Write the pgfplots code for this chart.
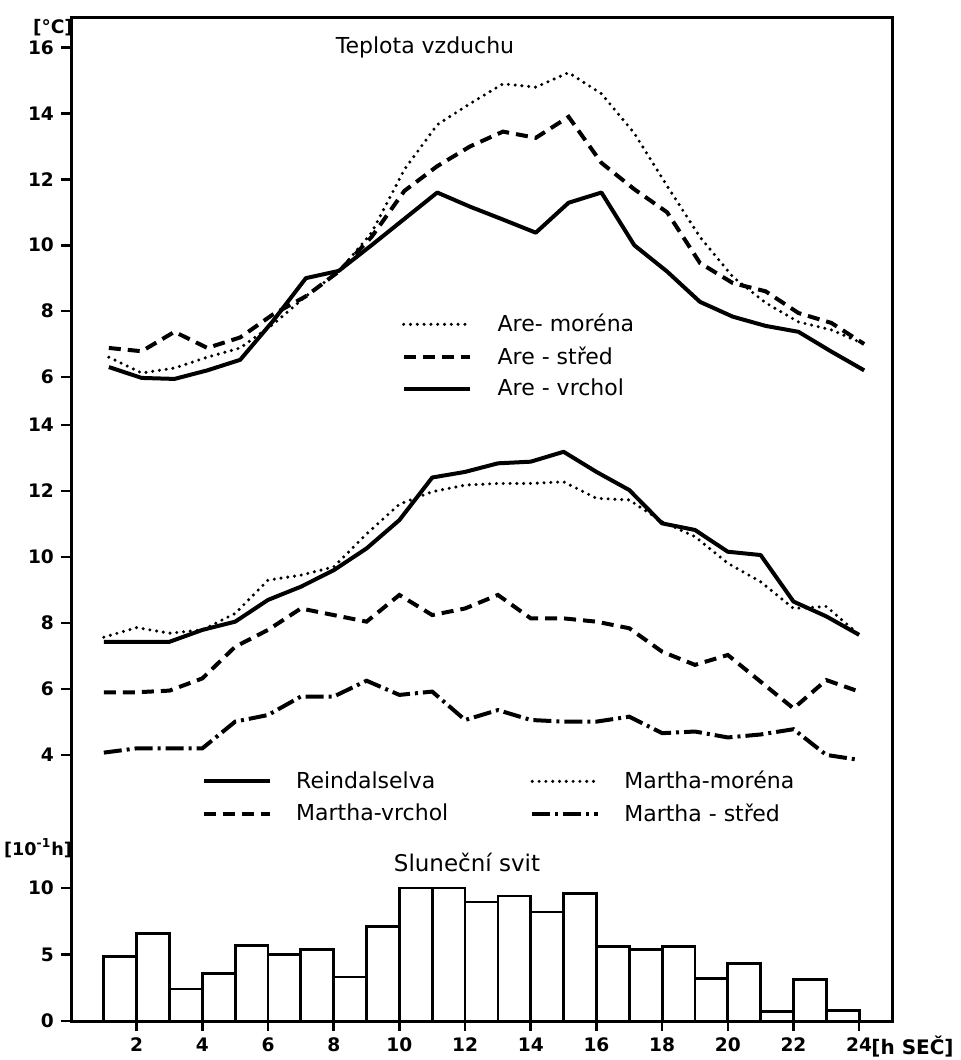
\documentclass[border=0pt]{standalone}
\usepackage{fontspec}
\setmainfont{DejaVu Sans}
\usepackage{pgfplots}
\pgfplotsset{compat=1.18}
\pgfplotsset{
  panel/.style={
    scale only axis, width=410.5pt, xmin=0, xmax=25,
    axis line style={draw=none},
    tick style={line width=1.3pt, black},
    tick align=outside, major tick length=5pt,
    ytick pos=left,
    /pgf/number format/assume math mode=true,
    tick label style={font=\fontsize{9.3}{11}\selectfont\bfseries},
    clip=false,
  },
  sol/.style={black, line width=2pt, line join=round},
  dsh/.style={black, line width=2pt, dash pattern=on 6pt off 3.5pt},
  dot/.style={black, line width=1.7pt, dash pattern=on 0pt off 3.4pt, line cap=round},
  dsd/.style={black, line width=2pt, dash pattern=on 9pt off 2.5pt on 1.5pt off 2.5pt},
  limg/.style={legend image code/.code={\draw[##1] (0pt,0pt) -- (33pt,0pt);}},
}
\begin{document}
\begin{tikzpicture}
\path[use as bounding box] (0,0) rectangle (480pt,530pt);
% ---------- top panel ----------
\begin{axis}[panel, at={(35.5pt,330pt)}, anchor=south west, height=191pt,
  ymin=5.3, ymax=16.9, ytick={6,8,...,16}, xtick=\empty,
  every axis plot/.append style={xshift=2.5pt},
  limg,
  legend style={at={(0.395,0.247)}, anchor=north west, draw=none, fill=none,
    font=\fontsize{11}{13}\selectfont, row sep=2pt,
    /tikz/every odd column/.append style={column sep=11pt}},
  legend cell align=left]
\addplot[dot] coordinates {(1,6.6)(2,6.12)(3,6.27)(4,6.6)(5,6.88)(6,7.6)(7,8.45)(8,9.2)(9,10.38)(10,12.3)(11,13.66)(12,14.3)(13,14.9)(14,14.8)(15,15.24)(16,14.6)(17,13.4)(18,11.8)(19,10.25)(20,9.04)(21,8.25)(22,7.67)(23,7.43)(24,7.0)};
\addlegendentry{Are- moréna}
\addplot[dsh] coordinates {(1,6.88)(2,6.78)(3,7.37)(4,6.88)(5,7.2)(6,7.9)(7,8.45)(8,9.2)(9,10.25)(10,11.65)(11,12.4)(12,13.0)(13,13.45)(14,13.26)(15,13.9)(16,12.5)(17,11.7)(18,11.0)(19,9.46)(20,8.85)(21,8.6)(22,7.94)(23,7.64)(24,7.0)};
\addlegendentry{Are - střed}
\addplot[sol] coordinates {(1,6.3)(2,5.97)(3,5.94)(4,6.2)(5,6.52)(6,7.7)(7,9.0)(8,9.22)(9,10.0)(10,10.8)(11,11.6)(12,11.17)(13,10.78)(14,10.38)(15,11.29)(16,11.6)(17,10.0)(18,9.2)(19,8.28)(20,7.83)(21,7.55)(22,7.37)(23,6.77)(24,6.2)};
\addlegendentry{Are - vrchol}
\end{axis}
% ---------- middle panel ----------
\begin{axis}[panel, at={(35.5pt,107.5pt)}, anchor=south west, height=222.5pt,
  ymin=1.27, ymax=14.76, ytick={4,6,...,14}, xtick=\empty,
  limg,
  legend columns=2,
  legend style={at={(0.152,0.185)}, anchor=north west, draw=none, fill=none,
    font=\fontsize{11}{13}\selectfont, row sep=2pt,
    /tikz/every odd column/.append style={column sep=10pt},
    /tikz/every even column/.append style={column sep=39pt}},
  legend cell align=left]
\addplot[sol] coordinates {(1,7.43)(2,7.43)(3,7.43)(4,7.79)(5,8.04)(6,8.7)(7,9.1)(8,9.6)(9,10.26)(10,11.12)(11,12.41)(12,12.58)(13,12.84)(14,12.89)(15,13.19)(16,12.58)(17,12.03)(18,11.02)(19,10.82)(20,10.16)(21,10.06)(22,8.65)(23,8.2)(24,7.64)};
\addlegendentry{Reindalselva}
\addplot[dot] coordinates {(1,7.57)(2,7.86)(3,7.69)(4,7.79)(5,8.29)(6,9.3)(7,9.45)(8,9.7)(9,10.7)(10,11.6)(11,11.98)(12,12.18)(13,12.23)(14,12.23)(15,12.28)(16,11.78)(17,11.73)(18,11.07)(19,10.62)(20,9.81)(21,9.25)(22,8.44)(23,8.5)(24,7.64)};
\addlegendentry{Martha-moréna}
\addplot[dsh] coordinates {(1,5.9)(2,5.9)(3,5.95)(4,6.32)(5,7.28)(6,7.79)(7,8.44)(8,8.24)(9,8.04)(10,8.85)(11,8.24)(12,8.44)(13,8.85)(14,8.14)(15,8.14)(16,8.04)(17,7.84)(18,7.13)(19,6.73)(20,7.03)(21,6.22)(22,5.41)(23,6.27)(24,5.92)};
\addlegendentry{Martha-vrchol}
\addplot[dsd] coordinates {(1,4.07)(2,4.2)(3,4.2)(4,4.2)(5,5.01)(6,5.21)(7,5.77)(8,5.77)(9,6.25)(10,5.82)(11,5.92)(12,5.06)(13,5.36)(14,5.06)(15,5.01)(16,5.01)(17,5.16)(18,4.66)(19,4.71)(20,4.53)(21,4.62)(22,4.78)(23,4.0)(24,3.85)};
\addlegendentry{Martha - střed}
\end{axis}
% ---------- bottom panel ----------
\begin{axis}[panel, at={(35.5pt,19.5pt)}, anchor=south west, height=88pt,
  ymin=0, ymax=13.23, ytick={0,5,10},
  xtick={2,4,...,24}, xtick pos=bottom]
\addplot[ybar, bar width=1, bar shift=0pt, fill=white, draw=black, line width=1.4pt]
 coordinates {(1.5,4.85)(2.5,6.6)(3.5,2.4)(4.5,3.6)(5.5,5.7)(6.5,5.0)(7.5,5.4)(8.5,3.3)(9.5,7.1)(10.5,10)(11.5,10)(12.5,8.95)(13.5,9.4)(14.5,8.2)(15.5,9.6)(16.5,5.6)(17.5,5.35)(18.5,5.6)(19.5,3.2)(20.5,4.3)(21.5,0.7)(22.5,3.1)(23.5,0.8)};
\end{axis}
% ---------- outer frame ----------
\begin{axis}[scale only axis, width=410.5pt, height=501.5pt,
  at={(35.5pt,19.5pt)}, anchor=south west,
  xmin=0, xmax=1, ymin=0, ymax=1, xtick=\empty, ytick=\empty,
  axis line style={line width=1.5pt, line join=miter}]
\end{axis}
% ---------- texts ----------
\node[font=\fontsize{11}{13}\selectfont] at (212.5pt,506.5pt) {Teplota vzduchu};
\node[font=\fontsize{9.3}{11}\selectfont\bfseries] at (26.5pt,516pt) {[°C]};
\node[font=\fontsize{8.8}{11}\selectfont\bfseries] at (19pt,106pt) {[10\textsuperscript{-1}h]};
\node[font=\fontsize{11.5}{13}\selectfont] at (233.5pt,99pt) {Sluneční svit};
\node[font=\fontsize{10}{12}\selectfont\bfseries, anchor=west, inner sep=0pt] at (435.5pt,6.5pt) {[h SEČ]};
\end{tikzpicture}
\end{document}
